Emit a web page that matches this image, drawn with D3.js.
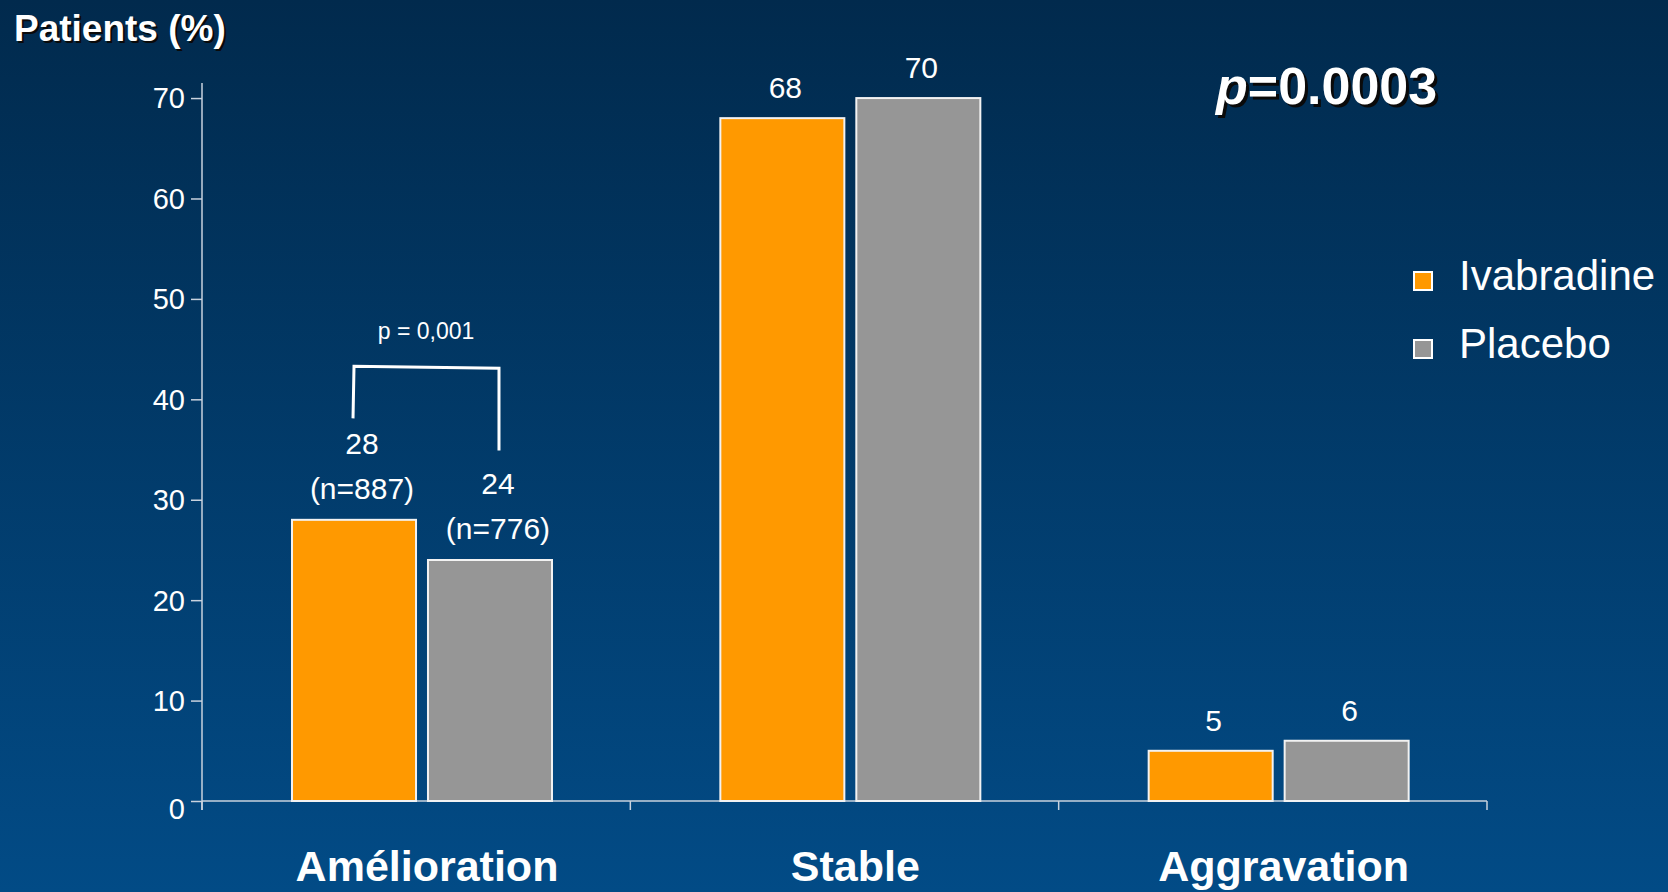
<!DOCTYPE html>
<html>
<head>
<meta charset="utf-8">
<script src="https://cdn.jsdelivr.net/npm/d3@7/dist/d3.min.js"></script>
<style>
  html, body { margin: 0; padding: 0; background: #013a68; }
  svg { display: block; }
  text { font-family: "Liberation Sans", Arial, Helvetica, sans-serif; fill: #ffffff; }
</style>
</head>
<body>
<svg id="chart" width="1668" height="892"></svg>
<script>
// Patient outcome categories and percentages per treatment arm
const categories = ["Amélioration", "Stable", "Aggravation"];
const seriesNames = ["Ivabradine", "Placebo"];
const ivabradine = [28, 68, 5];
const placebo = [24, 70, 6];
const seriesColors = ["#ff9900", "#969696"];
const sampleSizes = ["(n=887)", "(n=776)"];   // shown under the Amélioration values
const yTicks = [0, 10, 20, 30, 40, 50, 60, 70];
const yTitle = "Patients (%)";
const pairTest = "p = 0,001";
const overallTest = ["p", "=0.0003"];
// bracket levels (in % units) for the Amélioration comparison
const bracketTop = 43.3;
const bracketLegEnds = [38.1, 34.9];

const series = seriesNames.map((name, i) => ({
  name,
  color: seriesColors[i],
  values: i === 0 ? ivabradine : placebo
}));

const svg = d3.select("#chart");
const W = 1668, H = 892;

// background gradient
const defs = svg.append("defs");
const grad = defs.append("linearGradient")
  .attr("id", "bg").attr("x1", 0).attr("y1", 0).attr("x2", 0).attr("y2", 1);
grad.append("stop").attr("offset", "0%").attr("stop-color", "#012a4d");
grad.append("stop").attr("offset", "100%").attr("stop-color", "#024b86");
svg.append("rect").attr("width", W).attr("height", H).attr("fill", "url(#bg)");

// scales
const x0 = d3.scaleBand().domain(categories).range([202, 1487]).padding(0);
const x1 = d3.scaleBand().domain(seriesNames).range([90, 350]).paddingInner(0.088);
const y = d3.scaleLinear().domain([0, 71.5]).range([801, 83]);

const axisColor = "#c9d2de";

// y axis
const yAxis = d3.axisLeft(y).tickValues(yTicks).tickSize(11).tickPadding(6).tickSizeOuter(0);
const gy = svg.append("g").attr("transform", `translate(${x0.range()[0]},0)`).call(yAxis);
gy.select(".domain").remove();
gy.append("line")
  .attr("x1", 0).attr("x2", 0)
  .attr("y1", y(71.5)).attr("y2", y(0) + 9)
  .attr("stroke", axisColor).attr("stroke-width", 1.5);
gy.selectAll(".tick line").attr("stroke", axisColor).attr("stroke-width", 1.5);
gy.selectAll(".tick text")
  .style("font-family", '"Liberation Sans", Arial, sans-serif')
  .style("font-size", "29px")
  .attr("fill", "#ffffff")
  .attr("dy", d => d === 0 ? "0.6em" : "0.34em");

// x axis: baseline with ticks at category boundaries
const boundaries = categories.map(c => x0(c)).concat([x0.range()[1]]);
const gx = svg.append("g");
gx.append("line")
  .attr("x1", x0.range()[0]).attr("x2", x0.range()[1])
  .attr("y1", y(0)).attr("y2", y(0))
  .attr("stroke", axisColor).attr("stroke-width", 1.5);
gx.selectAll(".btick").data(boundaries).join("line")
  .attr("class", "btick")
  .attr("x1", d => d).attr("x2", d => d)
  .attr("y1", y(0)).attr("y2", y(0) + 9)
  .attr("stroke", axisColor).attr("stroke-width", 1.5);

// category labels
svg.selectAll(".cat").data(categories).join("text")
  .attr("class", "cat")
  .attr("x", c => x0(c) + (x1.range()[0] + x1.range()[1]) / 2 + 5)
  .attr("y", 881)
  .attr("text-anchor", "middle")
  .style("font-size", "43px")
  .style("font-weight", "bold")
  .text(c => c);

// bars
const barData = [];
series.forEach(s => {
  categories.forEach((c, i) => {
    barData.push({ cat: c, ci: i, series: s.name, color: s.color, value: s.values[i] });
  });
});

svg.append("g").selectAll("rect").data(barData).join("rect")
  .attr("x", d => x0(d.cat) + x1(d.series))
  .attr("y", d => y(d.value))
  .attr("width", x1.bandwidth())
  .attr("height", d => y(0) - y(d.value))
  .attr("fill", d => d.color)
  .attr("stroke", "#f2f2f2")
  .attr("stroke-width", 2);

// value labels
const labelX = d => x0(d.cat) + x1(d.series) + x1.bandwidth() / 2 + (d.ci === 0 ? 8 : 3);
const valueLabels = svg.append("g");
barData.forEach(d => {
  if (d.ci === 0) {
    const si = seriesNames.indexOf(d.series);
    valueLabels.append("text")
      .attr("x", labelX(d)).attr("y", y(d.value) - 66)
      .attr("text-anchor", "middle").style("font-size", "30px")
      .text(d.value);
    valueLabels.append("text")
      .attr("x", labelX(d)).attr("y", y(d.value) - 21)
      .attr("text-anchor", "middle").style("font-size", "30px")
      .text(sampleSizes[si]);
  } else {
    valueLabels.append("text")
      .attr("x", labelX(d)).attr("y", y(d.value) - 20)
      .attr("text-anchor", "middle").style("font-size", "30px")
      .text(d.value);
  }
});

// significance bracket between the two Amélioration bars
const legL = labelX(barData.find(d => d.ci === 0 && d.series === seriesNames[0])) - 9;
const legR = labelX(barData.find(d => d.ci === 0 && d.series === seriesNames[1])) + 1;
svg.append("path")
  .attr("d", `M${legL},${y(bracketLegEnds[0])} L${legL + 1},${y(bracketTop)} L${legR},${y(bracketTop) + 2} L${legR},${y(bracketLegEnds[1])}`)
  .attr("fill", "none")
  .attr("stroke", "#ffffff")
  .attr("stroke-width", 3)
  .attr("stroke-linejoin", "miter");
svg.append("text")
  .attr("x", (legL + legR) / 2)
  .attr("y", y(bracketTop) - 27)
  .attr("text-anchor", "middle")
  .style("font-size", "23px")
  .text(pairTest);

// bold text with a dark drop shadow
function shadowText(g, x, yy, size, build, off) {
  const sh = g.append("text").attr("x", x + off).attr("y", yy + off)
    .style("font-size", size + "px").style("font-weight", "bold");
  build(sh, "#0a0a0a");
  const fg = g.append("text").attr("x", x).attr("y", yy)
    .style("font-size", size + "px").style("font-weight", "bold");
  build(fg, "#ffffff");
}
const titleG = svg.append("g");
shadowText(titleG, 14, 41, 37, (t, col) => t.style("fill", col).text(yTitle), 2);

// overall p-value
const pG = svg.append("g");
shadowText(pG, 1216, 104, 52, (t, col) => {
  t.style("fill", col);
  t.append("tspan").style("font-style", "italic").style("fill", col).text(overallTest[0]);
  t.append("tspan").style("fill", col).text(overallTest[1]);
}, 3);

// legend
const legend = svg.append("g");
series.forEach((s, i) => {
  const ly = 272 + i * 68;
  legend.append("rect")
    .attr("x", 1414).attr("y", ly)
    .attr("width", 18).attr("height", 18)
    .attr("fill", s.color).attr("stroke", "#ffffff").attr("stroke-width", 2);
  legend.append("text")
    .attr("x", 1459).attr("y", ly + 18)
    .style("font-size", "42px")
    .text(s.name);
});
</script>
</body>
</html>
